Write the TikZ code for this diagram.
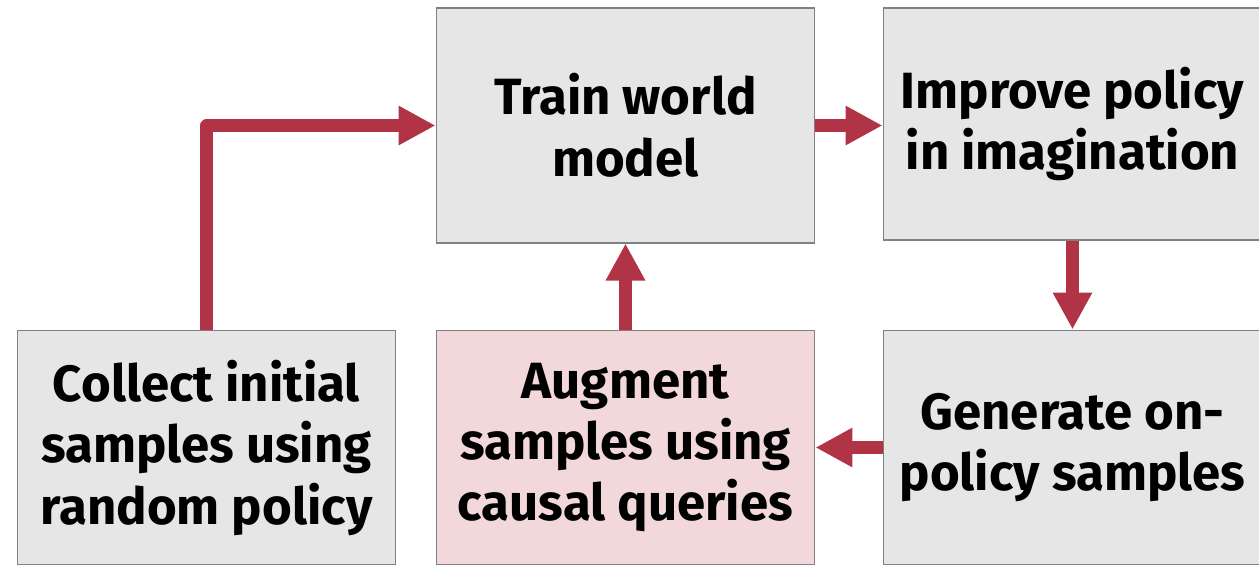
\documentclass[tikz,border=0pt]{standalone}
\usepackage{fontspec}
\setmainfont{Fira Sans}
\usetikzlibrary{arrows.meta}
\definecolor{flowred}{RGB}{176,52,69}
\definecolor{boxgray}{RGB}{230,230,230}
\definecolor{boxpink}{RGB}{242,216,218}
\begin{document}
\begin{tikzpicture}[x=0.02cm,y=-0.02cm,
  stage/.style={draw=black!50,line width=0.6pt,fill=boxgray,minimum width=7.58cm,
    minimum height=4.7cm,inner sep=0pt,align=center,
    font=\fontsize{29}{35}\selectfont\bfseries},
  flow/.style={draw=flowred,line width=7pt,line join=round,
    -{Triangle[length=0.74cm,width=0.74cm]}}]
  \useasboundingbox (0,0) rectangle (1259,565);
  \node[stage] (train) at (625.5,125.5) {Train world\\model};
  \node[stage,minimum height=4.64cm] (improve) at (1072.5,124) {Improve policy\\in imagination};
  \node[stage] (collect) at (206.5,447.5) {Collect initial\\samples using\\random policy};
  \node[stage,fill=boxpink] (augment) at (625.5,447.5) {Augment\\samples using\\causal queries};
  \node[stage] (generate) at (1072.5,447.5) {Generate on-\\policy samples};
  \draw[flow] (collect.north) -- (collect.north |- train.west) -- (train.west);
  \draw[flow] (train.east) -- (train.east -| improve.west);
  \draw[flow] (improve.south) -- (generate.north);
  \draw[flow] (generate.west) -- (augment.east);
  \draw[flow] (augment.north) -- (train.south);
\end{tikzpicture}
\end{document}
